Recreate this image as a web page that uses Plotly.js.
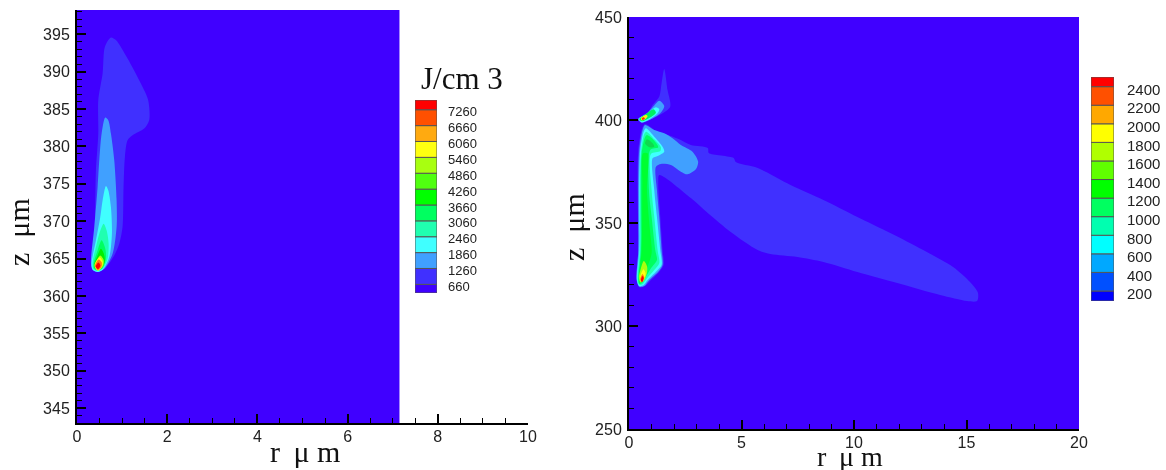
<!DOCTYPE html>
<html>
<head>
<meta charset="utf-8">
<script src="https://cdn.plot.ly/plotly-3.0.1.min.js"></script>
<style>html,body{margin:0;padding:0;background:#fff;overflow:hidden}#chart{width:1166px;height:470px;filter:blur(0.45px)}</style>
</head>
<body>
<div id="chart"></div>
<script>
// ---------- legends ----------
const leftLevels = [660,1260,1860,2460,3060,3660,4260,4860,5460,6060,6660,7260];
const leftEdges = [333,660,1260,1860,2460,3060,3660,4260,4860,5460,6060,6660,7260,7628];
const leftSwatches = ['#3F00FF','#4030FF','#40A0FF','#40FFFF','#20FFB0','#00FF60','#00FF00','#50FF10','#A8FF10','#FFFF10','#FFAA10','#FF5000','#FF0000'];
const rightLevels = [200,400,600,800,1000,1200,1400,1600,1800,2000,2200,2400];
const rightEdges = [92,200,400,600,800,1000,1200,1400,1600,1800,2000,2200,2400,2504];
const rightSwatches = ['#0000FF','#0050FF','#00A8FF','#00FFFF','#00FFB0','#00FF60','#00FF00','#60FF00','#B0FF00','#FFFF00','#FFA800','#FF5000','#FF0000'];
const fieldColor = '#4000FF';

// ---------- left panel, contour outlines (r um, z um) ----------
const leftFieldR = [0,7.15,7.15,0];
const leftFieldZ = [343.03,343.03,398.25,398.25];
const L1r = [.324,.383,.406,.420,.472,.472,.568,.619,.752,.863,1.121,1.416,1.578,1.600,1.490,1.232,1.121,1.062,1.032,1.010,.937,.826,.642,.457];
const L1z = [363.88,366.56,372.81,376.82,381.73,386.19,389.76,393.33,394.58,394.23,391.77,388.42,386.19,383.52,382.40,381.51,380.84,378.61,374.59,369.24,367.01,365.44,363.88,363.21];
const L2r = [.627,.546,.494,.457,.383,.310,.347,.457,.605,.789,.878,.878,.826,.752,.693];
const L2z = [383.87,381.73,378.16,374.59,369.24,364.33,363.52,363.21,363.66,365.67,369.24,372.81,378.16,381.73,383.52];
const L3r = [.642,.568,.516,.420,.324,.347,.457,.568,.715,.774,.752,.693];
const L3z = [374.72,372.81,370.58,367.45,364.33,363.52,363.21,363.52,365.22,368.34,371.91,374.14];
const L4r = [.590,.494,.420,.347,.361,.457,.568,.678,.701,.656];
const L4z = [369.68,368.34,366.56,364.55,363.66,363.35,363.66,365.00,367.01,368.79];
const L5r = [.546,.457,.369,.383,.472,.568,.642,.627];
const L5z = [367.45,366.11,364.33,363.66,363.43,363.79,365.00,366.34];
const L6r = [.531,.442,.383,.406,.479,.568,.619,.590];
const L6z = [366.34,365.22,364.19,363.66,363.52,363.88,364.77,365.76];
const L7r = [.516,.420,.398,.442,.516,.583,.590];
const L7z = [365.44,364.55,364.02,363.61,363.66,364.10,364.86];
const L8r = [.50,.39,.41,.47,.55,.57];
const L8z = [365.2,364.2,363.7,363.4,363.9,364.6];
const L9r = [.48,.40,.46,.54,.55];
const L9z = [364.9,364.05,363.5,363.9,364.5];
const L10r = [.475,.415,.465,.52];
const L10z = [364.5,363.95,363.6,364.1];

// ---------- right panel, contour outlines (r um, z um) ----------
const rightFieldR = [0,20,20,0];
const rightFieldZ = [250,250,450,450];
const R1r = [.458,.340,.414,.385,.414,.562,.710,.975,1.123,1.862,2.231,2.748,3.501,3.545,4.653,4.742,5.717,7.179,8.642,10.149,11.611,13.074,14.403,15.156,15.511,15.466,15.023,13.827,11.921,10.149,8.642,7.489,6.293,5.717,4.520,3.501,2.748,1.345,1.300,1.389,1.492,1.537,1.345,.975,.710];
const R1z = [318.77,322.33,336.89,369.26,385.44,395.15,398.06,396.44,395.15,392.23,390.61,387.86,386.41,383.98,381.55,379.61,376.70,368.45,361.17,352.91,345.15,336.89,328.64,321.36,316.02,312.14,312.14,315.05,320.87,326.21,331.07,333.50,334.95,336.89,345.63,354.85,362.14,373.30,369.26,353.07,336.89,329.61,326.38,322.33,319.42];
const R2r = [.710,1.123,1.566,1.935,2.305,2.822,3.073,2.969,2.600,2.305,1.862,1.419,1.197,1.241,1.345,1.448,1.492,1.300,.902,.680,.458,.340,.414,.414,.458,.606];
const R2z = [397.57,395.15,393.53,391.10,387.86,384.63,379.77,376.05,373.62,374.92,378.15,378.64,377.35,366.02,353.07,336.89,329.61,326.38,322.33,319.42,319.09,322.33,336.89,369.26,385.44,395.15];
const R3r = [.754,1.123,1.492,1.566,1.271,1.049,1.123,1.241,1.389,1.448,1.197,.828,.650,.458,.355,.458,.458,.503,.650];
const R3z = [395.95,391.91,387.05,384.63,382.52,381.39,366.02,353.07,336.89,329.61,326.38,322.33,319.90,319.42,322.33,336.89,369.26,385.44,394.34];
const R4r = [.769,1.123,1.419,1.389,.975,1.005,1.123,1.271,1.345,1.123,.798,.606,.458,.385,.488,.488,.532,.680];
const R4z = [394.34,390.61,386.73,384.95,383.49,366.02,353.07,336.89,330.42,327.18,323.14,320.23,319.90,322.33,336.89,369.26,384.63,393.20];
const R5r = [.798,1.123,1.300,.946,.887,1.005,1.167,1.241,.975,.754,.562,.458,.414,.532,.532,.562,.710];
const R5z = [392.72,389.97,386.73,385.44,366.02,353.07,336.89,332.04,327.99,323.95,320.71,320.39,322.33,336.89,369.26,383.82,391.59];
const R6r = [.621,.828,.798,.902,1.005,.828,.710,.562,.458,.444,.562,.591];
const R6z = [383.82,383.82,366.02,349.84,335.27,328.80,325.57,321.52,321.19,323.95,336.89,369.26];
const R6topR = [.798,1.049,1.123,.902,.710];
const R6topZ = [390.61,388.67,387.05,386.73,388.67];
const R7r = [.66,.53,.44,.50,.66,.80,.80];
const R7z = [331.5,328,323.5,321.2,322,326,329];
const R8r = [.64,.50,.52,.64,.74];
const R8z = [327.5,323.9,321.6,322.3,325.5];
const R9r = [.60,.50,.57,.68];
const R9z = [325.2,322.6,321.2,323.5];
const R10r = [.60,.53,.58,.655];
const R10z = [324.3,322.3,321.3,323.2];
// upper jet near z = 400
const U1r = [1.566,1.448,1.345,1.049,.828,.414,.562,.975,1.492,1.832,1.714];
const U1z = [424.76,417.80,411.33,407.28,403.24,400.48,398.70,400.32,403.24,406.47,414.56];
const U2r = [1.345,1.049,.798,.414,.562,.975,1.389,1.566];
const U2z = [409.38,406.15,403.24,400.48,398.70,400.32,403.24,406.80];
const U3r = [1.197,.828,.429,.562,.946,1.271,1.345];
const U3z = [406.15,403.24,400.48,398.87,400.65,403.24,405.18];
const U4r = [1.093,.754,.458,.576,.902,1.197];
const U4z = [405.18,402.91,400.48,399.35,400.97,403.56];
const U5r = [.754,.532,.562,.710,.828];
const U5z = [402.43,400.97,399.84,400.32,401.94];
const U6r = [.636,.562,.621,.710];
const U6z = [401.29,400.65,399.98,400.81];

// ---------- layer order ----------
const leftLayers = [
  [L1r,L1z,'#4030FF'],[L2r,L2z,'#40A0FF'],[L3r,L3z,'#40FFFF'],[L4r,L4z,'#20FFB0'],[L5r,L5z,'#00FF60'],
  [L6r,L6z,'#00F000'],[L7r,L7z,'#A8FF10'],[L8r,L8z,'#FFFF10'],[L9r,L9z,'#FF8010'],[L10r,L10z,'#FF0000']];
const rightLayers = [
  [R1r,R1z,'#4030FF'],[U1r,U1z,'#4030FF'],[R2r,R2z,'#40A0FF'],[U2r,U2z,'#40A0FF'],
  [R3r,R3z,'#40FFFF'],[U3r,U3z,'#40FFFF'],[R4r,R4z,'#20FFB0'],[R5r,R5z,'#00FF60'],[U4r,U4z,'#00F060'],
  [R6r,R6z,'#00FF30'],[R6topR,R6topZ,'#10D850'],[R7r,R7z,'#A8FF10'],[R8r,R8z,'#FFFF10'],[U5r,U5z,'#FFF010'],
  [R9r,R9z,'#FF8010'],[R10r,R10z,'#FF0000'],[U6r,U6z,'#FF3000']];

function poly(x,y,color,xa,ya,shape){
  return {type:'scatter',mode:'lines',x:x.concat(x[0]),y:y.concat(y[0]),fill:'toself',fillcolor:color,
    line:{width:0,color:color,shape:shape||'spline',smoothing:0.8},xaxis:xa,yaxis:ya,hoverinfo:'skip',showlegend:false};
}
function legendBars(edges,colors,xa,ya){
  const cells = colors.map((c,i)=>edges[i+1]-edges[i]);
  return {type:'bar',x:colors.map(()=>0.5),y:cells,base:edges.slice(0,-1),width:colors.map(()=>1),
    marker:{color:colors,line:{color:'#555',width:1}},xaxis:xa,yaxis:ya,hoverinfo:'skip',showlegend:false};
}

const traces = [];
traces.push(poly(leftFieldR,leftFieldZ,fieldColor,'x','y','linear'));
leftLayers.forEach(l=>traces.push(poly(l[0],l[1],l[2],'x','y')));
traces.push(poly(rightFieldR,rightFieldZ,fieldColor,'x2','y2','linear'));
rightLayers.forEach(l=>traces.push(poly(l[0],l[1],l[2],'x2','y2')));
traces.push(legendBars(leftEdges,leftSwatches,'x3','y3'));
traces.push(legendBars(rightEdges,rightSwatches,'x4','y4'));

const W=1166,H=470;
const dx=(a,b)=>[a/W,b/W], dy=(top,bottom)=>[1-bottom/H,1-top/H];
const tickFont={family:'"Liberation Sans",Arial,sans-serif',size:16,color:'#222'};
const serif='"Liberation Serif","Times New Roman",serif';
const sp='\u00A0', th='\u2009', mu='\u03BC';
const xTitleText='r'+sp+th+mu+sp+'m';
const yTitleText='z'+sp+sp+mu+'m';
function axis(domain,range,dtick,minor,anchor,labelGap){
  return {domain,range,anchor,tick0:0,dtick,ticks:'inside',ticklen:9,tickwidth:2,tickcolor:'#000',
    minor:{dtick:minor,ticks:'inside',ticklen:5,tickwidth:1,tickcolor:'#000',showgrid:false},
    showline:true,linecolor:'#000',linewidth:2,showgrid:false,zeroline:false,tickfont:tickFont,
    ticklabelstandoff:labelGap,fixedrange:true,layer:'above traces'};
}
function legendX(domain,anchor){return {domain,range:[0,1],anchor,showticklabels:false,ticks:'',showgrid:false,zeroline:false,showline:false,fixedrange:true};}
function legendY(domain,range,vals,anchor,size,standoff,shift){
  return {domain,range,anchor,side:'right',tickmode:'array',tickvals:vals,ticktext:vals.map(String),ticks:'',showgrid:false,zeroline:false,showline:false,
    tickfont:{family:'"Liberation Sans",Arial,sans-serif',size,color:'#222'},ticklabelstandoff:standoff,ticklabelshift:shift,fixedrange:true};
}
function label(text,px,py,size,angle){
  return {xref:'paper',yref:'paper',x:px/W,y:1-py/H,xanchor:'center',yanchor:'middle',showarrow:false,text,textangle:angle||0,
    font:{family:serif,size,color:'#111'}};
}

const layout = {
  width:W,height:H,margin:{l:0,r:0,t:0,b:0},paper_bgcolor:'#fff',plot_bgcolor:'rgba(0,0,0,0)',showlegend:false,bargap:0,
  xaxis: axis(dx(77,528),[0,10],2,0.5,'y',-2),
  yaxis: axis(dy(10,423),[343.03,398.25],5,1,'x',2),
  xaxis2:axis(dx(629,1079),[0,20],5,1,'y2',-2),
  yaxis2:axis(dy(17,429),[250,450],50,10,'x2',2),
  xaxis3:legendX(dx(415,437),'y3'),
  yaxis3:legendY(dy(100,293),[333,7628],leftLevels,'x3',13,10,2),
  xaxis4:legendX(dx(1091,1114),'y4'),
  yaxis4:legendY(dy(77,301),[92,2504],rightLevels,'x4',15,12,3),
  annotations:[
    label('J/cm 3',462,79,31),
    label(xTitleText,305,451,30),
    label(xTitleText,850,456,28),
    label(yTitleText,18,232,30,-90),
    label(yTitleText,573,227,30,-90)
  ]
};
Plotly.newPlot('chart',traces,layout,{displayModeBar:false,staticPlot:true});
</script>
</body>
</html>
